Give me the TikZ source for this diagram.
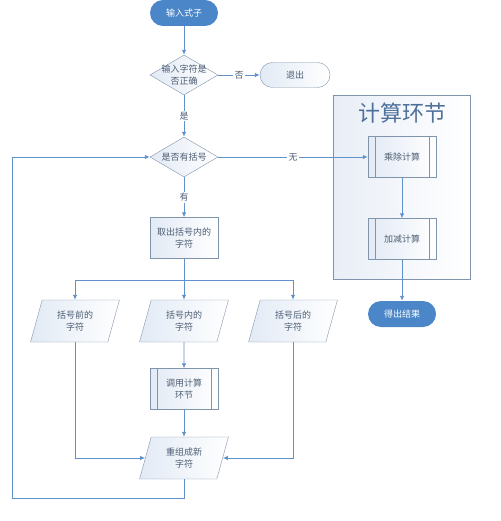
\documentclass[tikz,border=0pt]{standalone}
\usepackage{fontspec}
\newfontfamily\cnfont{Noto Sans CJK SC}
\definecolor{flowblue}{RGB}{96,145,202}
\definecolor{boxgray}{RGB}{128,148,172}
\definecolor{textgray}{RGB}{78,94,116}
\definecolor{termblue}{RGB}{74,134,200}
\definecolor{nodeshade}{RGB}{226,234,245}
\definecolor{panelshade}{RGB}{232,238,247}
\definecolor{titleblue}{RGB}{78,112,154}
\usetikzlibrary{
  arrows.meta,
  backgrounds,
  calc,
  positioning,
  shapes.geometric,
}
\tikzset{
  >={Latex[length=5pt,width=4.5pt]},
  flow/.style={->,draw=flowblue,line width=0.9pt},
  link/.style={draw=flowblue,line width=0.9pt},
  cntext/.style={font=\cnfont\fontsize{9}{12.5}\selectfont,text=textgray,align=center},
  terminal/.style={cntext,rectangle,rounded corners=13pt,minimum width=68pt,minimum height=26pt,fill=termblue,text=white,inner sep=2pt},
  exitbox/.style={cntext,rectangle,rounded corners=12.5pt,minimum width=70pt,minimum height=25pt,draw=boxgray,left color=nodeshade,right color=white},
  decision/.style={cntext,diamond,aspect=1.7,draw=boxgray,left color=nodeshade,right color=white,minimum width=68pt,minimum height=40pt,inner sep=-4pt},
  process/.style={cntext,rectangle,draw=boxgray,left color=nodeshade,right color=white,minimum width=68pt,minimum height=41pt,inner sep=2pt},
  subproc/.style={process,path picture={
      \draw[boxgray] ([xshift=7pt]path picture bounding box.north west) -- ([xshift=7pt]path picture bounding box.south west);
      \draw[boxgray] ([xshift=-7pt]path picture bounding box.north east) -- ([xshift=-7pt]path picture bounding box.south east);}},
  iobox/.style={cntext,trapezium,trapezium left angle=73,trapezium right angle=107,trapezium stretches=true,draw=boxgray,left color=nodeshade,right color=white,minimum width=89pt,minimum height=42pt,inner sep=0pt},
  lbl/.style={cntext,fill=white,inner sep=1.5pt},
  panel/.style={draw=boxgray,line width=0.6pt,left color=panelshade,right color=white},
}

\begin{document}
\begin{tikzpicture}[on grid]
  \useasboundingbox (0,0) rectangle (500pt,-521pt);

  % main column
  \node[terminal] (start) at (184pt,-13pt) {输入式子};
  \node[decision] (check) [below=62pt of start] {输入字符是\\否正确};
  \node[exitbox]  (quit)  [right=111pt of check] {退出};
  \node[decision] (hasbr) [below=82pt of check] {是否有括号};
  \node[process]  (getbr) [below=81pt of hasbr] {取出括号内的\\字符};
  \coordinate[below=42pt of getbr] (split);
  \node[iobox]    (inside) [below=83pt of getbr] {括号内的\\字符};
  \node[iobox]    (before) [left=109pt of inside] {括号前的\\字符};
  \node[iobox]    (after)  [right=109pt of inside] {括号后的\\字符};
  \node[subproc]  (callcalc) [below=68pt of inside] {调用计算\\环节};
  \node[iobox]    (merge)  [below=69pt of callcalc] {重组成新\\字符};
  \coordinate[below=40pt of merge] (back);
  \coordinate[left=172pt of back] (corner);

  % calculation part
  \node[subproc]  (muldiv) [right=218pt of hasbr] {乘除计算};
  \node[subproc]  (addsub) [below=82pt of muldiv] {加减计算};
  \node[terminal] (result) [below=75pt of addsub] {得出结果};
  \node[font=\cnfont\fontsize{22}{26}\selectfont,text=titleblue] (calctitle) [above=44pt of muldiv] {计算环节};

  \begin{scope}[on background layer]
    \draw[panel] ($(muldiv.north west)+(-35pt,41pt)$) rectangle ($(addsub.south east)+(34pt,-20pt)$);
  \end{scope}

  % connectors
  \draw[flow] (start) -- (check);
  \draw[flow] (check) -- node[lbl] {否} (quit);
  \draw[flow] (check) -- node[lbl] {是} (hasbr);
  \draw[flow] (hasbr) -- node[lbl] {无} (muldiv);
  \draw[flow] (hasbr) -- node[lbl] {有} (getbr);
  \draw[flow] (getbr) -- (inside);
  \draw[flow] (split) -| (before);
  \draw[flow] (split) -| (after);
  \draw[flow] (inside) -- (callcalc);
  \draw[flow] (callcalc) -- (merge);
  \draw[flow] (before) |- (merge);
  \draw[flow] (after) |- (merge);
  \draw[flow] (merge) -- (back) -- (corner) |- (hasbr);
  \draw[flow] (muldiv) -- (addsub);
  \draw[flow] (addsub) -- (result);
\end{tikzpicture}
\end{document}
